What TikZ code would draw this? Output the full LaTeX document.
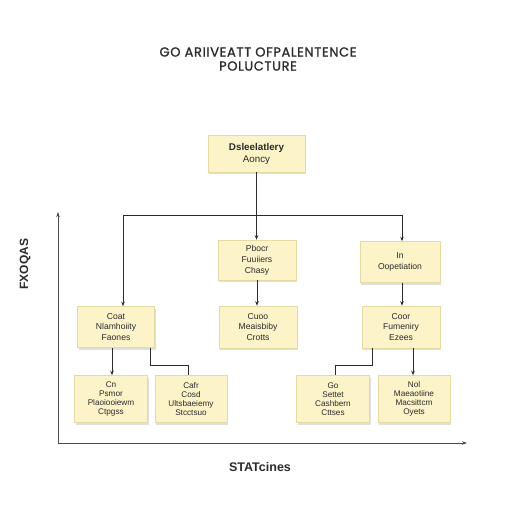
\documentclass[tikz,border=0pt]{standalone}
\usepackage{fontspec}
\setmainfont{Liberation Sans}
\newfontfamily\titlefont[FakeBold=1.2,LetterSpace=5]{Poppins}
\usetikzlibrary{arrows.meta,shadows}
\definecolor{boxfill}{HTML}{FCF3C8}
\definecolor{boxline}{HTML}{E6DAA4}
\definecolor{inkc}{HTML}{2B2B2B}
\begin{document}
\begin{tikzpicture}[x=1pt,y=-1pt,
  card/.style={draw=boxline,line width=0.5pt,fill=boxfill,align=center,
    text=inkc,font=\fontsize{8.6}{10.8}\selectfont,inner sep=0pt,
    drop shadow={opacity=0.25,shadow xshift=1.2pt,shadow yshift=-2pt}},
  tight/.style={card,font=\fontsize{8.2}{8.9}\selectfont},
  link/.style={draw=inkc,line width=0.85pt},
  arr/.style={link,-{Stealth[length=4.5pt,width=3.5pt]}},
  axis/.style={draw=inkc!85,line width=0.8pt,-{Stealth[length=5pt,width=3.5pt]}}]
\useasboundingbox[fill=white] (0,0) rectangle (512,512);
% title
\node[font=\titlefont\fontsize{13}{14}\selectfont,text=inkc,align=center] (title) at (258,59)
  {GO ARIIVEATT OFPALENTENCE\\POLUCTURE};
% axes
\coordinate (origin) at (58,443);
\coordinate (ytop) at (58,212);
\coordinate (xend) at (467,443);
\draw[axis] (origin) -- (ytop);
\draw[axis] (origin) -- (xend);
\node[rotate=90,font=\bfseries\fontsize{12}{14}\selectfont,text=inkc] (ylab) at (25,264) {FXOQAS};
\node[font=\bfseries\fontsize{12.5}{14}\selectfont,text=inkc] (xlab) at (260,467) {STATcines};
% boxes
\node[card,minimum width=97pt,minimum height=37pt,font=\bfseries\fontsize{9.8}{12}\selectfont] (top) at (256.5,153.5) {Dsleelatlery\\\mdseries Aoncy};
\node[card,minimum width=78pt,minimum height=40pt] (m1) at (257,260) {Pbocr\\Fuuiiers\\Chasy};
\node[card,minimum width=80pt,minimum height=41pt] (r1) at (400,262) {In\\Oopetiation};
\node[card,minimum width=77pt,minimum height=41pt] (l1) at (116,327) {Coat\\Nlamhoiity\\Faones};
\node[card,minimum width=78pt,minimum height=42pt] (m2) at (258,327) {Cuoo\\Meaisbiby\\Crotts};
\node[card,minimum width=78pt,minimum height=42pt] (r2) at (401,327) {Coor\\Fumeniry\\Ezees};
\node[tight,minimum width=73pt,minimum height=47pt] (b1) at (111,399) {Cn\\Psmor\\Plaoiooiewm\\Ctpgss};
\node[tight,minimum width=72pt,minimum height=47pt] (b2) at (191,399) {Cafr\\Cosd\\Ultsbaeiemy\\Stcctsuo};
\node[tight,minimum width=73pt,minimum height=47pt] (b3) at (333,399) {Go\\Settet\\Cashbern\\Cttses};
\node[tight,minimum width=72pt,minimum height=47pt] (b4) at (414,399) {Nol\\Maeaotiine\\Macsittcm\\Oyets};
% connectors
\coordinate (bus) at (256.5,215);
\coordinate (busL) at (123,215);
\coordinate (busR) at (402,215);
\draw[link] (top.south) -- (bus);
\draw[link] (busL) -- (busR);
\draw[arr] (busL) -- (busL |- l1.north);
\draw[arr] (bus) -- (bus |- m1.north);
\draw[arr] (busR) -- (busR |- r1.north);
\draw[arr] (m1.south) -- (m1.south |- m2.north);
\draw[arr] (r1.south -| busR) -- (busR |- r2.north);
\coordinate (l1a) at (112,0);
\coordinate (l1b) at (150,0);
\coordinate (kneeL) at (150,365);
\coordinate (kneeL2) at (188,365);
\draw[arr] (l1.south -| l1a) -- (l1a |- b1.north);
\draw[link] (l1.south -| l1b) -- (kneeL) -- (kneeL2) -- (kneeL2 |- b2.north);
\coordinate (r2a) at (372,0);
\coordinate (r2b) at (413,0);
\coordinate (kneeR) at (372,365);
\coordinate (kneeR2) at (335,365);
\draw[link] (r2.south -| r2a) -- (kneeR) -- (kneeR2) -- (kneeR2 |- b3.north);
\draw[arr] (r2.south -| r2b) -- (r2b |- b4.north);
\end{tikzpicture}
\end{document}
